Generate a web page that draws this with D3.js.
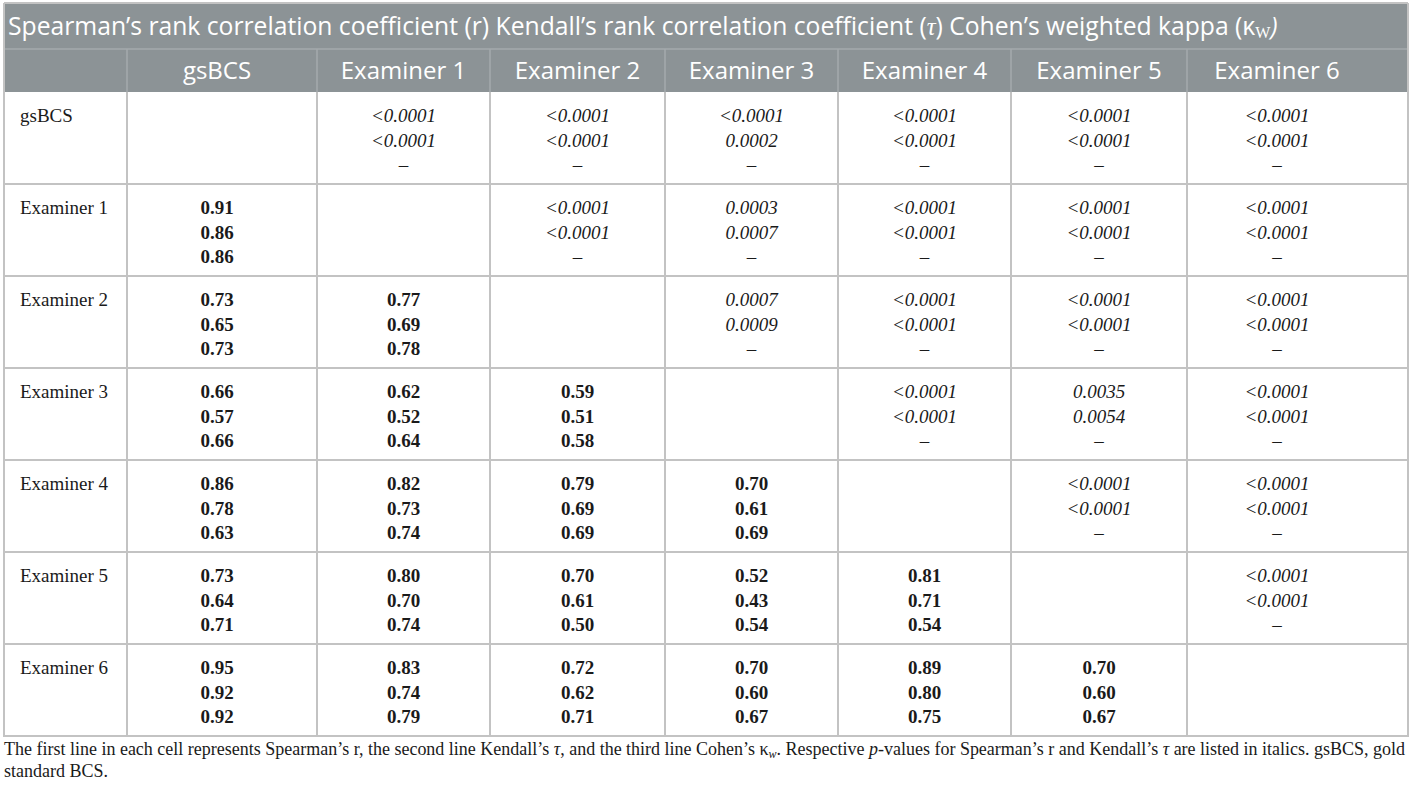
<!DOCTYPE html>
<html lang="en">
<head>
<meta charset="UTF-8" />
<title>Correlation table</title>
<style>
    body, html { margin: 0; padding: 0; background: #fff; overflow: hidden; }
    svg { display: block; }
    .hdr { font-family: "Open Sans", sans-serif; fill: #fff; }
    .body { font-family: "Liberation Serif", "Times New Roman", serif; fill: #1a1a1a; }
</style>
</head>
<body>
<svg id="chart" width="1412" height="790"></svg>
<script src="https://d3js.org/d3.v7.min.js"></script>
<script>
    // ---- data ----
    const rowLabels = ["gsBCS", "Examiner 1", "Examiner 2", "Examiner 3", "Examiner 4", "Examiner 5", "Examiner 6"];
    const colLabels = ["gsBCS", "Examiner 1", "Examiner 2", "Examiner 3", "Examiner 4", "Examiner 5", "Examiner 6"];

    // lower triangle: row i, columns 0..i-1
    const spearmanR = [[], [0.91], [0.73, 0.77], [0.66, 0.62, 0.59], [0.86, 0.82, 0.79, 0.70],
        [0.73, 0.80, 0.70, 0.52, 0.81], [0.95, 0.83, 0.72, 0.70, 0.89, 0.70]];
    const kendallTau = [[], [0.86], [0.65, 0.69], [0.57, 0.52, 0.51], [0.78, 0.73, 0.69, 0.61],
        [0.64, 0.70, 0.61, 0.43, 0.71], [0.92, 0.74, 0.62, 0.60, 0.80, 0.60]];
    const cohenKw = [[], [0.86], [0.73, 0.78], [0.66, 0.64, 0.58], [0.63, 0.74, 0.69, 0.69],
        [0.71, 0.74, 0.50, 0.54, 0.54], [0.92, 0.79, 0.71, 0.67, 0.75, 0.67]];

    // upper triangle p-values: row i, columns i+1..6
    const pSpearman = [["<0.0001", "<0.0001", "<0.0001", "<0.0001", "<0.0001", "<0.0001"],
        ["<0.0001", "0.0003", "<0.0001", "<0.0001", "<0.0001"],
        ["0.0007", "<0.0001", "<0.0001", "<0.0001"],
        ["<0.0001", "0.0035", "<0.0001"],
        ["<0.0001", "<0.0001"],
        ["<0.0001"], []];
    const pKendall = [["<0.0001", "<0.0001", "0.0002", "<0.0001", "<0.0001", "<0.0001"],
        ["<0.0001", "0.0007", "<0.0001", "<0.0001", "<0.0001"],
        ["0.0009", "<0.0001", "<0.0001", "<0.0001"],
        ["<0.0001", "0.0054", "<0.0001"],
        ["<0.0001", "<0.0001"],
        ["<0.0001"], []];

    // ---- layout ----
    const tblLeft = 4, tblRight = 1408, tblTop = 3;
    const titleBottom = 49, headBottom = 92, tableBottom = 736;
    const colEdges = [tblLeft, 127, 317, 490, 665, 838, 1011, 1187, tblRight];
    const gridColor = "#c3c3c3", headColor = "#8c9396";
    const bodySize = 19, headSize = 24;

    const svg = d3.select("#chart");
    const fmt = d3.format(".2f");

    const y = d3.scaleBand().domain(rowLabels).range([headBottom, tableBottom]);
    const colLeft = d3.scaleOrdinal().domain(["label"].concat(colLabels)).range(colEdges.slice(0, -1));
    const colCenter = c => {
        const i = colLabels.indexOf(c);
        const w = colEdges[i + 2] - colEdges[i + 1];
        return colEdges[i + 1] + Math.min(w, 180) / 2;
    };

    // header background
    svg.append("rect")
        .attr("x", tblLeft).attr("y", tblTop)
        .attr("width", tblRight - tblLeft).attr("height", headBottom - tblTop)
        .attr("fill", headColor);

    svg.append("line")
        .attr("x1", tblLeft).attr("x2", tblRight)
        .attr("y1", titleBottom).attr("y2", titleBottom)
        .attr("stroke", "#a5aaad").attr("stroke-width", 1.5);

    // header column dividers
    svg.append("g").selectAll("line")
        .data(colEdges.slice(1, -1))
        .join("line")
        .attr("x1", d => d).attr("x2", d => d)
        .attr("y1", titleBottom).attr("y2", headBottom)
        .attr("stroke", "#a5aaad").attr("stroke-width", 1.5);

    // title
    const title = svg.append("text").attr("class", "hdr")
        .attr("x", tblLeft + 4).attr("y", 35)
        .attr("font-size", 24.7);
    title.append("tspan").text("Spearman’s rank correlation coefficient (r) Kendall’s rank correlation coefficient (");
    title.append("tspan").attr("font-family", "Liberation Serif, serif").attr("font-style", "italic").text("τ");
    title.append("tspan").text(") Cohen’s weighted kappa (κ");
    title.append("tspan").attr("font-family", "Liberation Serif, serif").attr("font-size", 16).attr("dy", 3).text("W");
    title.append("tspan").attr("font-style", "italic").attr("dy", -3).text(")");

    // column headers
    svg.append("g").selectAll("text")
        .data(colLabels)
        .join("text")
        .attr("class", "hdr")
        .attr("x", d => colCenter(d))
        .attr("y", 79)
        .attr("text-anchor", "middle")
        .attr("font-size", headSize)
        .text(d => d);

    // body grid: horizontal lines
    svg.append("g").selectAll("line")
        .data(rowLabels.slice(1))
        .join("line")
        .attr("x1", tblLeft).attr("x2", tblRight)
        .attr("y1", d => y(d)).attr("y2", d => y(d))
        .attr("stroke", gridColor).attr("stroke-width", 2);

    // body grid: vertical lines
    svg.append("g").selectAll("line")
        .data(colEdges)
        .join("line")
        .attr("x1", d => d).attr("x2", d => d)
        .attr("y1", (d, i) => (i === 0 || i === colEdges.length - 1) ? tblTop : headBottom)
        .attr("y2", tableBottom)
        .attr("stroke", gridColor).attr("stroke-width", 2);

    // top and bottom border
    svg.append("line").attr("x1", tblLeft).attr("x2", tblRight).attr("y1", tblTop).attr("y2", tblTop)
        .attr("stroke", gridColor).attr("stroke-width", 2);
    svg.append("line").attr("x1", tblLeft - 1).attr("x2", tblRight + 1).attr("y1", tableBottom).attr("y2", tableBottom)
        .attr("stroke", gridColor).attr("stroke-width", 2);

    // row labels
    svg.append("g").selectAll("text")
        .data(rowLabels)
        .join("text")
        .attr("class", "body")
        .attr("x", colLeft("label") + 16)
        .attr("y", d => y(d) + 30)
        .attr("font-size", bodySize)
        .text(d => d);

    // build cells
    const cells = [];
    rowLabels.forEach((r, i) => {
        colLabels.forEach((c, j) => {
            if (j < i) {
                cells.push({ r, c, kind: "value", lines: [fmt(spearmanR[i][j]), fmt(kendallTau[i][j]), fmt(cohenKw[i][j])] });
            } else if (j > i) {
                cells.push({ r, c, kind: "p", lines: [pSpearman[i][j - i - 1], pKendall[i][j - i - 1], "–"] });
            }
        });
    });

    const lineGap = 24.5;
    const cellG = svg.append("g").selectAll("g")
        .data(cells)
        .join("g")
        .attr("transform", d => `translate(${colCenter(d.c)},${y(d.r) + 30})`);

    cellG.selectAll("text")
        .data(d => d.lines.map((t, k) => ({ t, k, kind: d.kind })))
        .join("text")
        .attr("class", "body")
        .attr("text-anchor", "middle")
        .attr("y", d => d.k * lineGap)
        .attr("font-size", bodySize)
        .attr("font-weight", d => d.kind === "value" ? "bold" : "normal")
        .attr("font-style", d => d.kind === "p" && d.k < 2 ? "italic" : "normal")
        .text(d => d.t);

    // footnote
    const foot = svg.append("g").attr("class", "body").attr("font-size", 18);
    const f1 = foot.append("text").attr("x", tblLeft).attr("y", 755)
        .attr("textLength", 1401).attr("lengthAdjust", "spacing");
    f1.append("tspan").text("The first line in each cell represents Spearman’s r, the second line Kendall’s ");
    f1.append("tspan").attr("font-style", "italic").text("τ");
    f1.append("tspan").text(", and the third line Cohen’s κ");
    f1.append("tspan").attr("font-size", 12).attr("dy", 3).attr("font-style", "italic").text("w");
    f1.append("tspan").attr("dy", -3).text(". Respective ");
    f1.append("tspan").attr("font-style", "italic").text("p");
    f1.append("tspan").text("-values for Spearman’s r and Kendall’s ");
    f1.append("tspan").attr("font-style", "italic").text("τ");
    f1.append("tspan").text(" are listed in italics. gsBCS, gold");
    foot.append("text").attr("x", tblLeft).attr("y", 777).text("standard BCS.");
</script>
</body>
</html>
